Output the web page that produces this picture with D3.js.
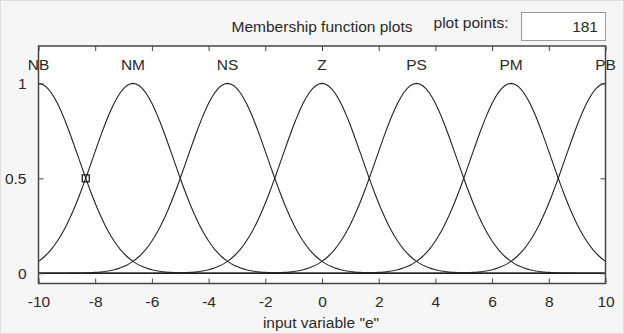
<!DOCTYPE html>
<html>
<head>
<meta charset="utf-8">
<title>Membership function plots</title>
<script src="https://cdn.jsdelivr.net/npm/d3@7"></script>
<style>
body { margin: 0; background: #f6f6f6; }
text { font-family: "Liberation Sans", Arial, sans-serif; fill: #2a2a2a; }
</style>
</head>
<body>
<div id="chart"></div>
<script>
// membership functions (gaussmf)
var mfNames = ["NB", "NM", "NS", "Z", "PS", "PM", "PB"];
var mfCenters = [-10, -6.667, -3.333, 0, 3.333, 6.667, 10];
var mfSigma = [1.416, 1.416, 1.416, 1.416, 1.416, 1.416, 1.416];
var xTicks = [-10, -8, -6, -4, -2, 0, 2, 4, 6, 8, 10];
var yTicks = [0, 0.5, 1];
var yTickLabels = ["0", "0.5", "1"];
var plotPoints = 181;
var marker = [-8.333, 0.5];

var w = 624, h = 334, fs = "15.5px";
var svg = d3.select("#chart").append("svg").attr("width", w).attr("height", h);

svg.append("rect").attr("x", 0.5).attr("y", 0.5).attr("width", w - 1).attr("height", h - 1)
  .attr("fill", "#f6f6f6").attr("stroke", "#dedede");

var x = d3.scaleLinear().domain([-10, 10]).range([38.5, 605.5]);
var y = d3.scaleLinear().domain([-0.054, 1.197]).range([283.5, 46]);

// plot area
svg.append("rect").attr("x", x(-10)).attr("y", y(1.197))
  .attr("width", x(10) - x(-10)).attr("height", y(-0.054) - y(1.197))
  .attr("fill", "#fff");

// header
svg.append("text").attr("x", 322).attr("y", 32).attr("text-anchor", "middle")
  .style("font-size", fs).text("Membership function plots");
svg.append("text").attr("x", 471).attr("y", 28).attr("text-anchor", "middle")
  .style("font-size", fs).text("plot points:");
svg.append("rect").attr("x", 521.5).attr("y", 12.5).attr("width", 84).attr("height", 28)
  .attr("fill", "#fff").attr("stroke", "#999");
svg.append("text").attr("x", 598).attr("y", 32).attr("text-anchor", "end")
  .style("font-size", fs).text(plotPoints);

// curves
var xs = d3.range(plotPoints).map(function(i) { return -10 + 20 * i / (plotPoints - 1); });
var line = d3.line().x(function(d) { return x(d[0]); }).y(function(d) { return y(d[1]); });
var g = svg.append("g");
mfCenters.forEach(function(c, k) {
  var pts = xs.map(function(v) { return [v, Math.exp(-Math.pow(v - c, 2) / (2 * mfSigma[k] * mfSigma[k]))]; });
  g.append("path").attr("d", line(pts)).attr("fill", "none")
    .attr("stroke", "#222").attr("stroke-width", 1.1);
  svg.append("text").attr("x", x(c)).attr("y", y(1.1) + 6).attr("text-anchor", "middle")
    .style("font-size", fs).text(mfNames[k]);
});

// marker
svg.append("rect").attr("x", x(marker[0]) - 3.5).attr("y", y(marker[1]) - 3.5)
  .attr("width", 7).attr("height", 7).attr("fill", "none").attr("stroke", "#111").attr("stroke-width", 1.2);

// axes
var axisColor = "#444";
svg.append("g").attr("transform", "translate(0," + y(-0.054) + ")")
  .call(d3.axisBottom(x).tickValues(xTicks).tickSize(-5).tickPadding(12)
    .tickFormat(function(d) { return String(d); }))
  .call(function(a) {
    a.select(".domain").remove();
    a.selectAll("line").attr("stroke", axisColor);
    a.selectAll("text").style("font-size", fs).attr("fill", "#333").style("font-family", "Liberation Sans, Arial");
  });
svg.append("g").attr("transform", "translate(0," + y(1.197) + ")")
  .call(d3.axisTop(x).tickValues(xTicks).tickSize(-5).tickFormat(""))
  .call(function(a) { a.select(".domain").remove(); a.selectAll("line").attr("stroke", axisColor); });
svg.append("g").attr("transform", "translate(" + x(-10) + ",0)")
  .call(d3.axisLeft(y).tickValues(yTicks).tickSize(-5).tickPadding(12)
    .tickFormat(function(d, i) { return yTickLabels[i]; }))
  .call(function(a) {
    a.select(".domain").remove();
    a.selectAll("line").attr("stroke", axisColor);
    a.selectAll("text").style("font-size", fs).attr("fill", "#333").style("font-family", "Liberation Sans, Arial");
  });
svg.append("g").attr("transform", "translate(" + x(10) + ",0)")
  .call(d3.axisRight(y).tickValues(yTicks).tickSize(-5).tickFormat(""))
  .call(function(a) { a.select(".domain").remove(); a.selectAll("line").attr("stroke", axisColor); });

svg.append("rect").attr("x", x(-10)).attr("y", y(1.197))
  .attr("width", x(10) - x(-10)).attr("height", y(-0.054) - y(1.197))
  .attr("fill", "none").attr("stroke", axisColor).attr("stroke-width", 1.5);

svg.append("text").attr("x", 321).attr("y", 328).attr("text-anchor", "middle")
  .style("font-size", fs).text("input variable \"e\"");
</script>
</body>
</html>
